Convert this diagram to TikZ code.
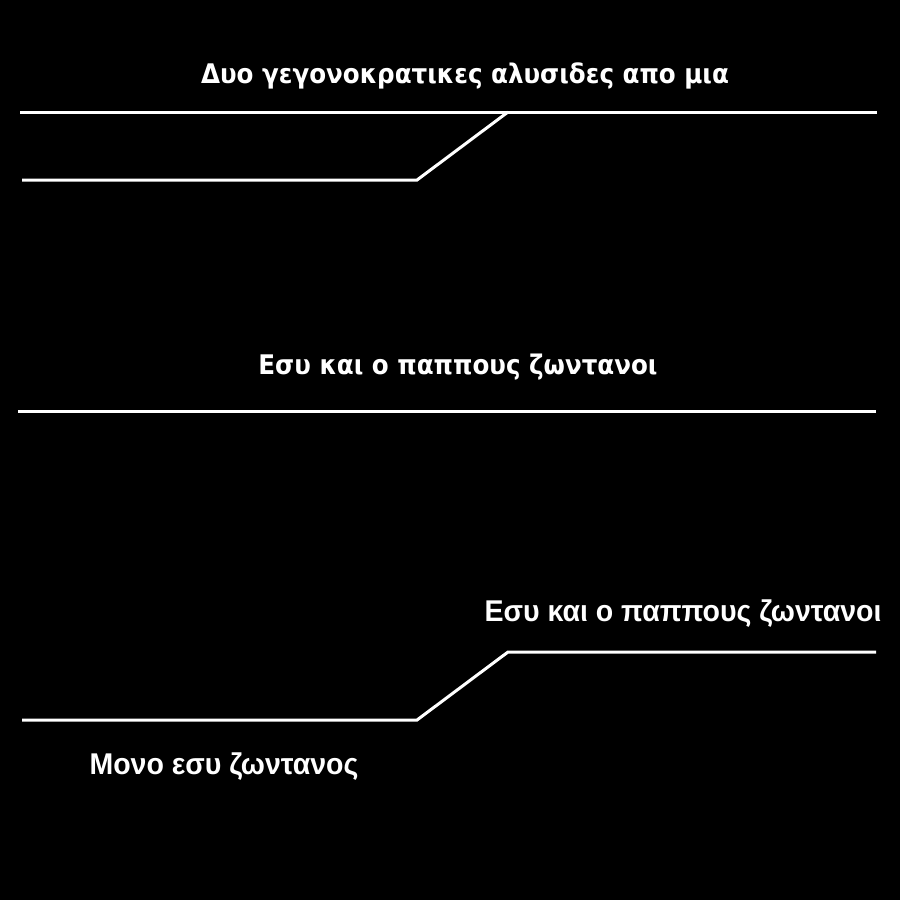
\documentclass[tikz,border=0pt]{standalone}
\usepackage{fontspec}
\setmainfont{DejaVu Sans}
\newfontfamily\condfont{Liberation Sans}
\begin{document}
\begin{tikzpicture}[x=1pt,y=-1pt,
  wire/.style={draw=white,line width=3pt,line join=miter},
  lbl/.style={text=white,font=\fontsize{27}{29}\selectfont\bfseries,inner sep=0pt,anchor=base,xscale=0.91},
  clbl/.style={text=white,font=\condfont\fontsize{30}{32}\selectfont\bfseries,inner sep=0pt,anchor=base,xscale=0.95}]
\fill[black] (0,0) rectangle (900,900);
\useasboundingbox (0,0) rectangle (900,900);
% top pair
\coordinate (a1) at (20,112);
\coordinate (a2) at (877,112);
\coordinate (b1) at (22,180);
\coordinate (b2) at (417,180);
\coordinate (b3) at (508,112);
\draw[wire] (a1) -- (a2);
\draw[wire] (b1) -- (b2) -- (b3);
\node[lbl] (t1) at (465,83) {Δυο γεγονοκρατικες αλυσιδες απο μια};
% middle
\coordinate (m1) at (18,411);
\coordinate (m2) at (876,411);
\draw[wire] (m1) -- (m2);
\node[lbl] (t2) at (458,374) {Εσυ και ο παππους ζωντανοι};
% bottom
\coordinate (c1) at (22,720);
\coordinate (c2) at (417,720);
\coordinate (c3) at (508,652);
\coordinate (c4) at (876,652);
\draw[wire] (c1) -- (c2) -- (c3) -- (c4);
\node[clbl] (t3) at (683,621) {Εσυ και ο παππους ζωντανοι};
\node[clbl] (t4) at (224,774) {Μονο εσυ ζωντανος};
\end{tikzpicture}
\end{document}
